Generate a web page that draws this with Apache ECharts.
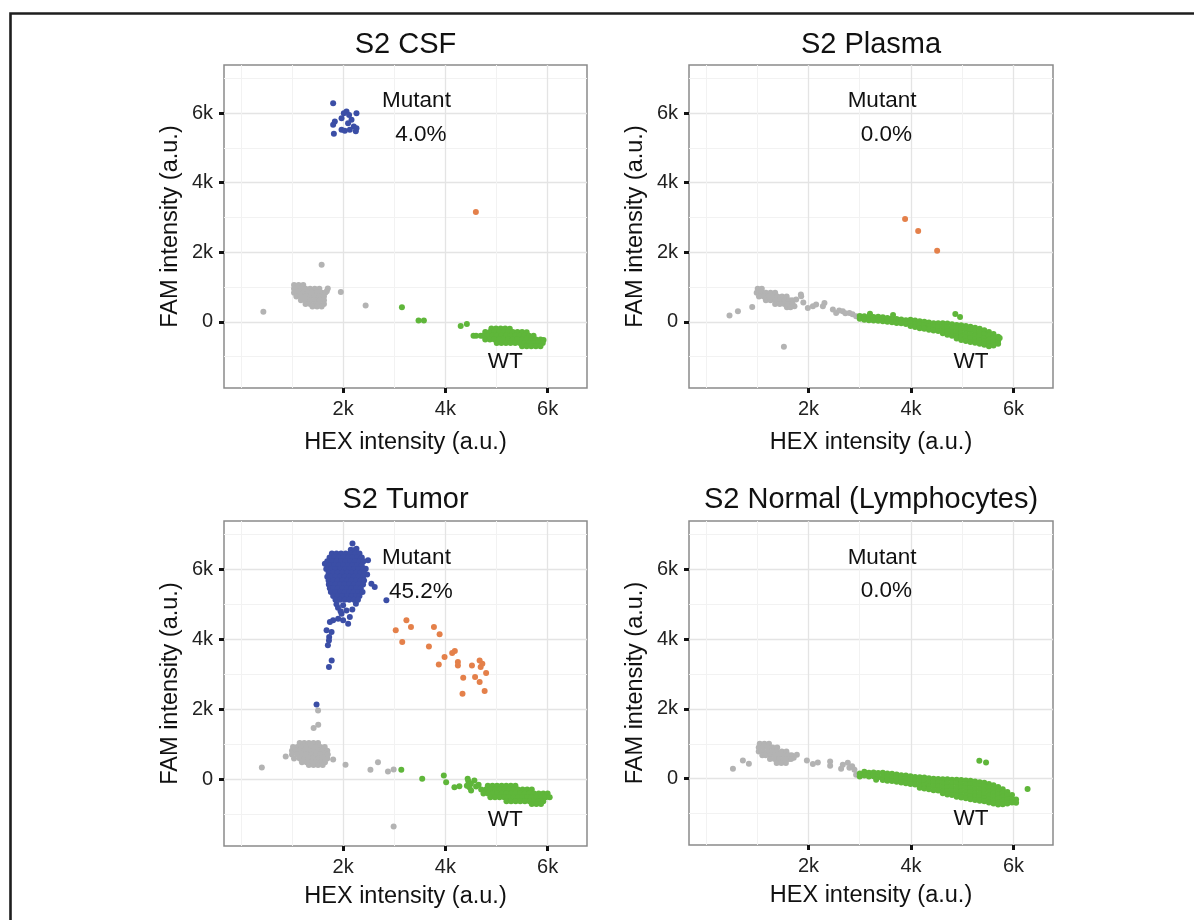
<!DOCTYPE html>
<html><head><meta charset="utf-8">
<script src="https://cdn.jsdelivr.net/npm/echarts@6/dist/echarts.min.js"></script>
<style>html,body{margin:0;padding:0;background:#fff;} #c{width:1194px;height:920px;}</style>
</head><body><div id="c"></div>
<script>
// ---------- data ----------
const panelTitles = ['S2 CSF', 'S2 Plasma', 'S2 Tumor', 'S2 Normal (Lymphocytes)'];
const mutantPct = ['4.0%', '0.0%', '45.2%', '0.0%'];
const xTicks = [2000, 4000, 6000];
const xTickLabels = ['2k', '4k', '6k'];
const yTicks = [0, 2000, 4000, 6000];
const yTickLabels = ['0', '2k', '4k', '6k'];
const xMinorTicks = [0, 1000, 3000, 5000];
const yMinorTicks = [-1000, 1000, 3000, 5000, 7000];
const xRange = [-330, 6770];
const yRange = [-1900, 7380];

const csfGray = [
 [440,290],[1580,1640],[1955,860],[2440,470],[1700,960],[1680,880],
 [1040,1060],[1130,1060],[1220,1060],
 [1040,950],[1085,950],[1175,950],[1265,950],[1355,950],[1445,950],[1535,950],
 [1040,840],[1130,840],[1220,840],[1310,840],[1400,840],[1490,840],[1580,840],[1650,840],
 [1085,730],[1175,730],[1265,730],[1355,730],[1445,730],[1535,730],[1625,730],
 [1175,620],[1265,620],[1355,620],[1445,620],[1535,620],[1625,620],
 [1265,510],[1355,510],[1445,510],[1535,510],[1625,510],
 [1400,440],[1490,440],[1580,440]
];
const csfGreen = [
 [3150,420],[3475,40],[3580,40],[4300,-120],[4420,-60],[4550,-400],
 [4900,-190],[4990,-190],[5080,-190],[5170,-190],[5260,-200],
 [4780,-290],[4870,-290],[4960,-290],[5050,-290],[5140,-290],[5230,-290],[5320,-290],[5410,-290],[5500,-290],[5590,-300],
 [4600,-400],[4690,-400],[4735,-400],[4825,-400],[4915,-400],[5005,-400],[5095,-400],[5185,-400],[5275,-400],[5365,-400],[5455,-400],[5545,-400],[5635,-400],[5725,-400],
 [4780,-510],[4870,-510],[4960,-510],[5050,-510],[5140,-510],[5230,-510],[5320,-510],[5410,-510],[5500,-510],[5590,-510],[5680,-510],[5770,-510],[5860,-510],[5920,-520],
 [5005,-610],[5095,-610],[5185,-610],[5275,-610],[5365,-610],[5455,-610],[5545,-610],[5635,-610],[5725,-610],[5815,-610],[5905,-610],
 [5500,-700],[5590,-700],[5680,-700],[5770,-700],[5860,-700]
];
const csfBlue = [
 [1805,6283],[2066,6042],[2014,5996],[2117,5947],[2261,5996],[1969,5853],[2164,5804],[1838,5755],
 [2097,5709],[1805,5661],[2209,5612],[2261,5566],[1969,5517],[2033,5488],[2131,5517],[1819,5402],[2248,5480]
];
const csfOrange = [[4596,3156]];

const plasmaGray = [
 [460,181],[624,304],[903,430],[1521,-717],
 [1727,448],[1760,640],[1858,735],[1852,783],[1900,560],[1988,402],[2086,448],[2150,500],[2281,448],[2312,545],
 [2476,353],[2540,258],[2600,330],[2670,304],[2720,250],[2799,258],[2860,220],[2930,161],
 [1010,950],[1090,950],
 [990,840],[1080,840],[1170,840],[1260,840],[1350,840],
 [1035,730],[1125,730],[1215,730],[1305,730],[1395,730],[1485,730],[1575,730],
 [1170,620],[1260,620],[1350,620],[1440,620],[1530,620],[1620,620],[1680,620],
 [1350,510],[1440,510],[1530,510],[1620,510],[1690,510],
 [1580,420],[1650,420]
];
const plasmaGreen = [
 [3000,170],[3000,90],[3090,160],[3090,60],[3180,150],[3180,50],[3200,230],[3270,140],[3270,40],
 [3360,150],[3360,30],[3450,130],[3450,20],[3540,110],[3540,0],[3630,100],[3630,-10],[3650,200],
 [3720,80],[3720,-30],[3810,70],[3810,-40],[3900,50],[3900,-60],
 [3990,60],[3990,-40],[3990,-120],[4080,40],[4080,-60],[4080,-150],[4170,20],[4170,-80],[4170,-180],
 [4260,0],[4260,-100],[4260,-200],[4350,-20],[4350,-120],[4350,-230],[4440,-40],[4440,-140],[4440,-250],
 [4530,-40],[4530,-150],[4530,-260],
 [4620,-40],[4620,-150],[4620,-260],[4620,-330],[4710,-50],[4710,-160],[4710,-270],[4710,-370],
 [4800,-70],[4800,-180],[4800,-290],[4800,-400],
 [4890,-90],[4890,-200],[4890,-310],[4890,-420],[4890,-480],
 [4980,-100],[4980,-210],[4980,-320],[4980,-430],[4980,-520],
 [5070,-120],[5070,-230],[5070,-340],[5070,-450],[5070,-550],
 [5160,-140],[5160,-250],[5160,-360],[5160,-470],[5160,-580],
 [5250,-170],[5250,-280],[5250,-390],[5250,-500],[5250,-600],
 [5340,-200],[5340,-310],[5340,-420],[5340,-530],[5340,-630],
 [5430,-240],[5430,-350],[5430,-460],[5430,-570],[5430,-660],
 [5520,-290],[5520,-400],[5520,-510],[5520,-620],[5520,-700],
 [5610,-350],[5610,-460],[5610,-570],[5610,-680],
 [5700,-430],[5700,-540],[5700,-630],
 [4865,229],[4957,143],[5730,-460]
];
const plasmaBlue = [];
const plasmaOrange = [[3885,2955],[4140,2610],[4510,2040]];

const tumorGray = [
 [410,343],[877,657],[1805,571],[2047,420],[2534,277],[2682,494],[2877,229],[2988,286],[2988,-1343],
 [1510,1970],[1513,1563],[1423,1466],
 [1150,1040],[1240,1040],[1330,1040],[1420,1040],[1510,1040],
 [1020,930],[1105,930],[1195,930],[1285,930],[1375,930],[1465,930],[1555,930],[1640,930],
 [1000,820],[1060,820],[1150,820],[1240,820],[1330,820],[1420,820],[1510,820],[1600,820],[1690,820],
 [1000,710],[1105,710],[1195,710],[1285,710],[1375,710],[1465,710],[1555,710],[1645,710],[1700,710],
 [1040,600],[1150,600],[1240,600],[1330,600],[1420,600],[1510,600],[1600,600],[1690,600],
 [1195,490],[1285,490],[1375,490],[1465,490],[1555,490],[1645,490],
 [1330,410],[1420,410],[1510,410],[1600,410]
];
const tumorGreen = [
 [3138,277],[3547,20],[3969,114],[4015,-77],[4177,-220],[4274,-191],[4436,20],[4567,-29],[4470,-220],[4503,-314],
 [4450,-50],[4500,-120],[4600,-200],[4650,-150],[4420,-180],
 [4830,-180],[4920,-180],[5010,-180],[5100,-180],[5190,-180],[5280,-180],[5370,-180],
 [4700,-290],[4790,-290],[4880,-290],[4970,-290],[5060,-290],[5150,-290],[5240,-290],[5330,-290],[5420,-290],[5510,-290],[5600,-290],[5690,-290],
 [4745,-400],[4835,-400],[4925,-400],[5015,-400],[5105,-400],[5195,-400],[5285,-400],[5375,-400],[5465,-400],[5555,-400],[5645,-400],[5735,-400],[5825,-400],[5915,-400],[6000,-400],
 [4880,-510],[4970,-510],[5060,-510],[5150,-510],[5240,-510],[5330,-510],[5420,-510],[5510,-510],[5600,-510],[5690,-510],[5780,-510],[5870,-510],[5960,-510],[6040,-510],
 [5195,-620],[5285,-620],[5375,-620],[5465,-620],[5555,-620],[5645,-620],[5735,-620],[5825,-620],[5915,-620],
 [5690,-700],[5780,-700],[5870,-700]
];
const tumorBlue = [
 [2183,6734],[2261,6591],[2487,6257],[2442,6020],[2553,5591],[2618,5494],[2846,5114],[1643,6162],[2470,5850],
 [2000,4971],[2066,4828],[1969,4734],[2131,4637],[2000,4543],[2098,4448],[1903,4591],[1805,4543],[1741,4494],
 [1676,4257],[1774,4208],[1727,4066],[1723,3971],[1702,3829],[1776,3400],[1723,3209],[1480,2140],
 [1900,4900],[2180,4850],[1870,5000],[2250,5020],[1950,4800],
 [2150,6560],[2240,6560],
 [1780,6450],[1870,6450],[1960,6450],[2050,6450],[2140,6450],[2230,6450],[2320,6450],
 [1735,6340],[1825,6340],[1915,6340],[2005,6340],[2095,6340],[2185,6340],[2275,6340],[2365,6340],
 [1690,6230],[1780,6230],[1870,6230],[1960,6230],[2050,6230],[2140,6230],[2230,6230],[2320,6230],[2400,6230],
 [1690,6120],[1735,6120],[1825,6120],[1915,6120],[2005,6120],[2095,6120],[2185,6120],[2275,6120],[2365,6120],
 [1670,6010],[1760,6010],[1850,6010],[1940,6010],[2030,6010],[2120,6010],[2210,6010],[2300,6010],[2390,6010],
 [1715,5900],[1805,5900],[1895,5900],[1985,5900],[2075,5900],[2165,5900],[2255,5900],[2345,5900],[2410,5900],
 [1690,5790],[1760,5790],[1850,5790],[1940,5790],[2030,5790],[2120,5790],[2210,5790],[2300,5790],[2390,5790],
 [1715,5680],[1805,5680],[1895,5680],[1985,5680],[2075,5680],[2165,5680],[2255,5680],[2345,5680],[2410,5680],
 [1720,5570],[1760,5570],[1850,5570],[1940,5570],[2030,5570],[2120,5570],[2210,5570],[2300,5570],[2390,5570],
 [1740,5460],[1805,5460],[1895,5460],[1985,5460],[2075,5460],[2165,5460],[2255,5460],[2345,5460],
 [1760,5350],[1850,5350],[1940,5350],[2030,5350],[2120,5350],[2210,5350],[2300,5350],[2380,5350],
 [1805,5240],[1895,5240],[1985,5240],[2075,5240],[2165,5240],[2255,5240],[2320,5240],
 [1850,5130],[1940,5130],[2030,5130],[2120,5130],[2210,5130],[2290,5130]
];
const tumorOrange = [
 [3029,4257],[3156,3923],[3238,4543],[3327,4351],[3678,3800],[3776,4351],[3887,4143],[3984,3494],[3871,3286],
 [4133,3609],[4185,3666],[4245,3351],[4245,3257],[4349,2906],[4335,2449],[4520,3257],[4581,2923],[4670,2780],
 [4670,3400],[4723,3306],[4690,3209],[4768,2523],[4797,3037]
];

const normalGray = [
 [527,286],[721,523],[838,429],[1774,686],[1713,600],[1969,523],[2086,420],[2183,466],[2423,494],[2423,371],
 [2637,286],[2670,400],[2768,457],[2799,314],[2852,357],[2897,257],[2930,114],
 [1050,1000],[1140,1000],[1230,1000],
 [1030,890],[1120,890],[1210,890],[1300,890],[1390,890],
 [1030,780],[1120,780],[1210,780],[1300,780],[1390,780],[1480,780],[1570,780],
 [1100,670],[1165,670],[1255,670],[1345,670],[1435,670],[1525,670],[1615,670],[1670,670],
 [1250,560],[1340,560],[1430,560],[1520,560],[1610,560],[1660,560],
 [1380,450],[1470,450],[1560,450]
];
const normalGreen = [
 [3000,150],[3000,60],[3090,200],[3090,90],[3180,170],[3180,60],[3270,180],[3270,70],[3360,160],[3360,40],
 [3450,170],[3450,50],[3450,-40],[3540,150],[3540,40],[3540,-60],[3630,140],[3630,30],[3630,-70],
 [3720,120],[3720,10],[3720,-90],[3810,100],[3810,-10],[3810,-110],[3900,90],[3900,-20],[3900,-130],
 [3990,70],[3990,-40],[3990,-150],[4080,50],[4080,-60],[4080,-170],
 [4170,40],[4170,-70],[4170,-180],[4170,-260],[4260,30],[4260,-80],[4260,-190],[4260,-280],
 [4350,10],[4350,-100],[4350,-210],[4350,-300],[4440,0],[4440,-110],[4440,-220],[4440,-330],
 [4530,-10],[4530,-120],[4530,-230],[4530,-340],
 [4620,-20],[4620,-130],[4620,-240],[4620,-350],[4620,-420],
 [4710,-20],[4710,-130],[4710,-240],[4710,-350],[4710,-450],
 [4800,-30],[4800,-140],[4800,-250],[4800,-360],[4800,-470],
 [4890,-30],[4890,-140],[4890,-250],[4890,-360],[4890,-470],[4890,-520],
 [4980,-40],[4980,-150],[4980,-260],[4980,-370],[4980,-480],[4980,-540],
 [5070,-50],[5070,-160],[5070,-270],[5070,-380],[5070,-490],[5070,-560],
 [5160,-60],[5160,-170],[5160,-280],[5160,-390],[5160,-500],[5160,-590],
 [5250,-80],[5250,-190],[5250,-300],[5250,-410],[5250,-520],[5250,-610],
 [5340,-100],[5340,-210],[5340,-320],[5340,-430],[5340,-540],[5340,-630],
 [5430,-120],[5430,-230],[5430,-340],[5430,-450],[5430,-560],[5430,-650],
 [5520,-150],[5520,-260],[5520,-370],[5520,-480],[5520,-590],[5520,-680],
 [5610,-190],[5610,-300],[5610,-410],[5610,-520],[5610,-630],[5610,-710],
 [5700,-240],[5700,-350],[5700,-460],[5700,-570],[5700,-680],[5700,-740],
 [5790,-300],[5790,-410],[5790,-520],[5790,-630],[5790,-730],
 [5880,-380],[5880,-490],[5880,-600],[5880,-710],
 [5970,-470],[5970,-580],[5970,-680],
 [6050,-600],[6050,-690],
 [5333,514],[5464,466],[6274,-294],[3320,-30]
];
const normalBlue = [];
const normalOrange = [];

// annotation anchor points (data coordinates)
const noteMutant = [3435, 6340];
const notePct = [3520, 5370];
const noteWT = [5170, -1160];

// ---------- layout / style ----------
const FONT = '"Liberation Sans", Arial, Helvetica, sans-serif';
const panels = [
  {gray: csfGray, green: csfGreen, blue: csfBlue, orange: csfOrange},
  {gray: plasmaGray, green: plasmaGreen, blue: plasmaBlue, orange: plasmaOrange},
  {gray: tumorGray, green: tumorGreen, blue: tumorBlue, orange: tumorOrange},
  {gray: normalGray, green: normalGreen, blue: normalBlue, orange: normalOrange}
];
const boxes = [
  {left: 224, top: 65, width: 363, height: 323, xGap: 43, yGap: 41, titleY: 45},
  {left: 689, top: 65, width: 364, height: 323, xGap: 43, yGap: 41, titleY: 45},
  {left: 224, top: 521, width: 363, height: 325, xGap: 39, yGap: 41, titleY: 500},
  {left: 689, top: 521, width: 364, height: 324, xGap: 39, yGap: 41, titleY: 500}
];
const COL = {gray: '#b3b3b3', green: '#5fb63a', blue: '#3b4ea6', orange: '#e4804a'};

const grid = [], xAxis = [], yAxis = [], series = [], graphic = [];
boxes.forEach((b, i) => {
  grid.push({left: b.left, top: b.top, width: b.width, height: b.height, show: true,
    borderColor: '#8a8a8a', borderWidth: 1.5, backgroundColor: 'transparent',
    containLabel: false, outerBoundsMode: 'none'});
});
boxes.forEach((b, i) => {
  xAxis.push({type: 'value', gridIndex: i, min: xRange[0], max: xRange[1], position: 'bottom',
    axisLine: {show: false, onZero: false},
    axisTick: {show: true, customValues: xTicks, length: 5, lineStyle: {color: '#111', width: 3}},
    axisLabel: {customValues: xTicks, formatter: v => xTickLabels[xTicks.indexOf(v)], fontSize: 20,
      color: '#222', fontFamily: FONT, margin: 11},
    splitLine: {show: true, lineStyle: {color: '#e4e4e4', width: 1.3}},
    name: 'HEX intensity (a.u.)', nameLocation: 'middle', nameGap: b.xGap, nameMoveOverlap: false,
    nameTextStyle: {fontSize: 23.5, color: '#111', fontFamily: FONT}});
  yAxis.push({type: 'value', gridIndex: i, min: yRange[0], max: yRange[1], position: 'left',
    axisLine: {show: false, onZero: false},
    axisTick: {show: true, customValues: yTicks, length: 5, lineStyle: {color: '#111', width: 3}},
    axisLabel: {customValues: yTicks, formatter: v => yTickLabels[yTicks.indexOf(v)], fontSize: 20,
      color: '#222', fontFamily: FONT, margin: 11},
    splitLine: {show: true, lineStyle: {color: '#e4e4e4', width: 1.3}},
    name: 'FAM intensity (a.u.)', nameLocation: 'middle', nameGap: b.yGap, nameRotate: 90, nameMoveOverlap: false,
    nameTextStyle: {fontSize: 23.5, color: '#111', fontFamily: FONT}});
});
boxes.forEach((b, i) => {
  xAxis.push({type: 'value', gridIndex: i, min: xRange[0], max: xRange[1], position: 'top',
    axisLine: {show: false, onZero: false}, axisTick: {show: false, customValues: xMinorTicks}, axisLabel: {show: false},
    splitLine: {show: true, lineStyle: {color: '#f2f2f2', width: 1}}});
  yAxis.push({type: 'value', gridIndex: i, min: yRange[0], max: yRange[1], position: 'right',
    axisLine: {show: false, onZero: false}, axisTick: {show: false, customValues: yMinorTicks}, axisLabel: {show: false},
    splitLine: {show: true, lineStyle: {color: '#f2f2f2', width: 1}}});
});
panels.forEach((p, i) => {
  ['gray', 'green', 'orange', 'blue'].forEach(k => {
    series.push({type: 'scatter', xAxisIndex: i, yAxisIndex: i, data: p[k], symbolSize: 6,
      itemStyle: {color: COL[k], opacity: 1}, silent: true, emphasis: {disabled: true}, z: 3});
  });
  series.push({type: 'scatter', xAxisIndex: i, yAxisIndex: i, symbolSize: 0, silent: true, z: 5,
    itemStyle: {color: '#000', opacity: 1}, emphasis: {disabled: true},
    label: {show: true, position: 'inside', formatter: '{b}', fontSize: 22.5, color: '#111', opacity: 1,
      textBorderWidth: 0, fontFamily: FONT},
    data: [{name: 'Mutant', value: noteMutant}, {name: mutantPct[i], value: notePct}, {name: 'WT', value: noteWT}]});
  graphic.push({type: 'text', x: boxes[i].left + boxes[i].width / 2, y: boxes[i].titleY, silent: true,
    style: {text: panelTitles[i], fontSize: 29, fontFamily: FONT, fill: '#111', align: 'center', verticalAlign: 'middle'}});
});
graphic.push({type: 'polyline', silent: true, shape: {points: [[10.5, 920], [10.5, 13.5], [1194, 13.5]]},
  style: {stroke: '#1e1e1e', lineWidth: 2.6, fill: null}});

const chart = echarts.init(document.getElementById('c'), null, {renderer: 'canvas'});
chart.setOption({backgroundColor: '#ffffff', animation: false, grid, xAxis, yAxis, series, graphic});
</script></body></html>
